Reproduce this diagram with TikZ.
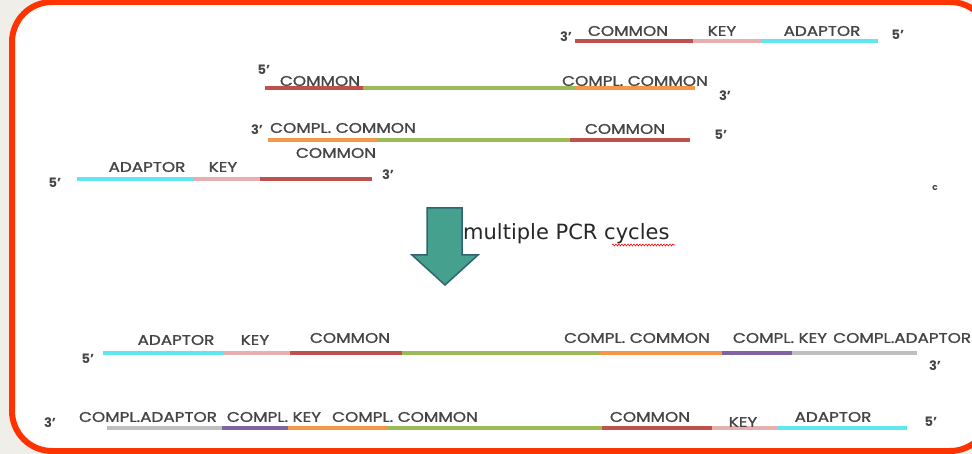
\documentclass[tikz,border=0pt]{standalone}
\usepackage{fontspec}
\setmainfont{Poppins}
\newfontfamily\lblfont[FakeStretch=1.2, FakeBold=1.2]{Poppins}
\newfontfamily\arrowfont{DejaVu Sans}
\usetikzlibrary{decorations.pathmorphing}
\definecolor{cBg}{HTML}{EFEEE8}
\definecolor{cFrame}{HTML}{FF3300}
\definecolor{cRed}{HTML}{C0504D}
\definecolor{cPink}{HTML}{E6B0B0}
\definecolor{cCyan}{HTML}{5FE6EE}
\definecolor{cGreen}{HTML}{9BBB59}
\definecolor{cOrange}{HTML}{F79646}
\definecolor{cPurple}{HTML}{8064A2}
\definecolor{cGray}{HTML}{BFBFBF}
\definecolor{cText}{HTML}{454545}
\definecolor{cArrowFill}{HTML}{45A08E}
\definecolor{cArrowLine}{HTML}{2F6470}
\tikzset{
  seg/.style={line width=4pt},
  lbl/.style={font=\lblfont\fontsize{14}{14}\selectfont, text=cText, inner sep=0pt},
  endlbl/.style={font=\fontsize{13}{13}\selectfont\bfseries, text=cText, inner sep=0pt},
}
\begin{document}
\begin{tikzpicture}[x=1pt,y=-1pt]
\useasboundingbox (0,0) rectangle (972,454);
\fill[cBg] (0,0) rectangle (972,454);
\draw[cFrame, line width=6pt, fill=white, rounded corners=40pt] (12,2) rectangle (990,451);

% strand 1
\draw[seg,cRed] (575,41) -- (693,41);
\draw[seg,cPink] (693,41) -- (762,41);
\draw[seg,cCyan] (762,41) -- (878,41);
\node[lbl] (s1a) at (628,31) {COMMON};
\node[lbl] (s1b) at (722,31) {KEY};
\node[lbl] (s1c) at (822,31) {ADAPTOR};
\node[endlbl] (s1l) at (566,37) {3’};
\node[endlbl] (s1r) at (898,35) {5’};

% strand 2
\draw[seg,cRed] (265,88) -- (363,88);
\draw[seg,cGreen] (363,88) -- (575,88);
\draw[seg,cOrange] (575,88) -- (695,88);
\node[lbl] (s2a) at (320,81) {COMMON};
\node[lbl] (s2b) at (635,81) {COMPL. COMMON};
\node[endlbl] (s2l) at (264,70) {5’};
\node[endlbl] (s2r) at (725,96) {3’};

% strand 3
\draw[seg,cOrange] (268,140) -- (377,140);
\draw[seg,cGreen] (377,140) -- (570,140);
\draw[seg,cRed] (570,140) -- (690,140);
\node[lbl] (s3a) at (343,128) {COMPL. COMMON};
\node[lbl] (s3b) at (336,153) {COMMON};
\node[lbl] (s3c) at (625,129) {COMMON};
\node[endlbl] (s3l) at (257,130) {3’};
\node[endlbl] (s3r) at (721,135) {5’};

% strand 4
\draw[seg,cCyan] (77,179) -- (193,179);
\draw[seg,cPink] (193,179) -- (260,179);
\draw[seg,cRed] (260,179) -- (372,179);
\node[lbl] (s4a) at (147,167) {ADAPTOR};
\node[lbl] (s4b) at (223,167) {KEY};
\node[endlbl] (s4l) at (55,183) {5’};
\node[endlbl] (s4r) at (388,175) {3’};

\node[font=\fontsize{9}{9}\selectfont\bfseries, text=cText, inner sep=0pt] (cmark) at (935,188) {c};

% arrow
\draw[cArrowLine, line width=1.5pt, fill=cArrowFill, line join=miter]
  (427,208) -- (462,208) -- (462,255) -- (478,255) -- (445,285) -- (412,255) -- (427,255) -- cycle;
\node[font=\arrowfont\fontsize{21}{21}\selectfont, text=black!85, anchor=base west, inner sep=0pt] (pcr) at (463,240) {multiple PCR cycles};
\draw[red, line width=0.6pt, decorate, decoration={snake, amplitude=0.9pt, segment length=3pt}] (612,245) -- (675,245);

% bottom strand 1
\draw[seg,cCyan] (103,353) -- (223,353);
\draw[seg,cPink] (223,353) -- (290,353);
\draw[seg,cRed] (290,353) -- (402,353);
\draw[seg,cGreen] (402,353) -- (600,353);
\draw[seg,cOrange] (600,353) -- (722,353);
\draw[seg,cPurple] (722,353) -- (792,353);
\draw[seg,cGray] (792,353) -- (917,353);
\node[lbl] (b1a) at (176,340) {ADAPTOR};
\node[lbl] (b1b) at (255,340) {KEY};
\node[lbl] (b1c) at (350,338) {COMMON};
\node[lbl] (b1d) at (637,338) {COMPL. COMMON};
\node[lbl] (b1e) at (780,338) {COMPL. KEY};
\node[lbl, anchor=west] (b1f) at (833,338) {COMPL.ADAPTOR};
\node[endlbl] (b1l) at (88,359) {5’};
\node[endlbl] (b1r) at (935,366) {3’};

% bottom strand 2
\draw[seg,cGray] (107,428) -- (222,428);
\draw[seg,cPurple] (222,428) -- (288,428);
\draw[seg,cOrange] (288,428) -- (388,428);
\draw[seg,cGreen] (388,428) -- (602,428);
\draw[seg,cRed] (602,428) -- (712,428);
\draw[seg,cPink] (712,428) -- (777,428);
\draw[seg,cCyan] (777,428) -- (907,428);
\node[lbl] (b2a) at (148,417) {COMPL.ADAPTOR};
\node[lbl] (b2b) at (274,417) {COMPL. KEY};
\node[lbl] (b2c) at (405,417) {COMPL. COMMON};
\node[lbl] (b2d) at (650,417) {COMMON};
\node[lbl] (b2e) at (743,422) {KEY};
\node[lbl] (b2f) at (833,417) {ADAPTOR};
\node[endlbl] (b2l) at (50,423) {3’};
\node[endlbl] (b2r) at (931,422) {5’};
\end{tikzpicture}
\end{document}
